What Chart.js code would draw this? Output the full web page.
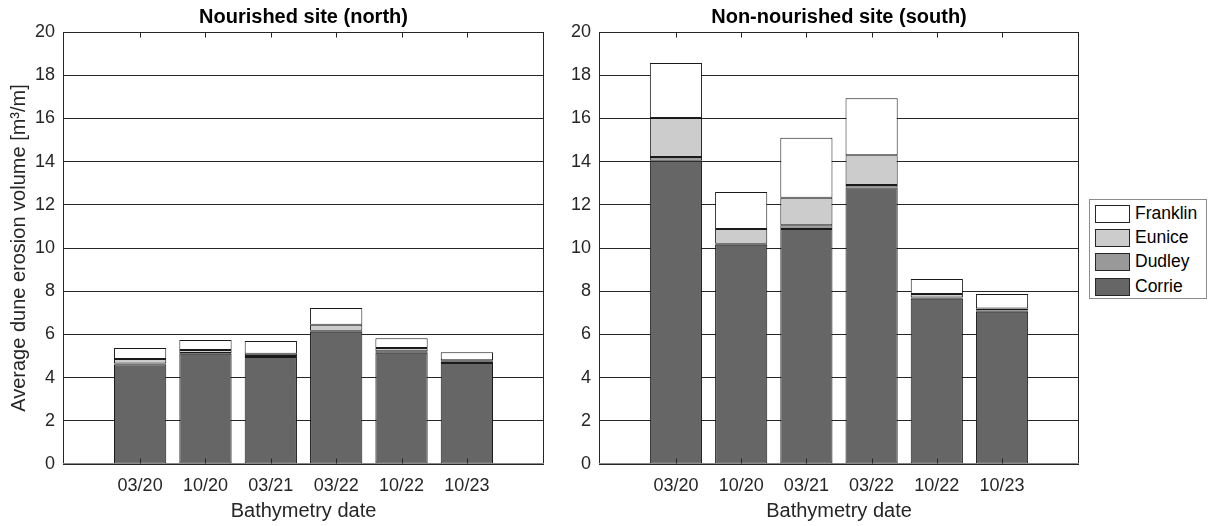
<!DOCTYPE html>
<html>
<head>
<meta charset="utf-8">
<script src="https://cdn.jsdelivr.net/npm/chart.js@4.4.1/dist/chart.umd.min.js"></script>
<style>
  html, body { margin: 0; padding: 0; background: #fff; }
  #wrap { position: relative; width: 1208px; height: 526px; overflow: hidden; }
  #north { position: absolute; left: 0; top: 0; }
  #south { position: absolute; left: 560px; top: 0; }
  #legend {
    position: absolute; left: 1089px; top: 199px; width: 118px; height: 100px;
    box-sizing: border-box; border: 1px solid #8c8c8c; background: #fff;
    font-family: 'Liberation Sans', Arial, sans-serif; font-size: 17.5px; color: #000;
  }
  .row { position: absolute; left: 5px; height: 19px; display: flex; align-items: center; }
  .sw { width: 35px; height: 18px; box-sizing: border-box; border: 1px solid #262626; margin-right: 5px; }
</style>
</head>
<body>
<div id="wrap">
  <canvas id="north" width="560" height="526"></canvas>
  <canvas id="south" width="648" height="526"></canvas>
  <div id="legend"></div>
</div>
<script>
// Survey dates (x categories)
const categories = ['03/20', '10/20', '03/21', '03/22', '10/22', '10/23'];

// Storm names, stacked bottom to top, and their fills
const storms = ['Corrie', 'Dudley', 'Eunice', 'Franklin'];
const stormColors = ['#666666', '#999999', '#cccccc', '#ffffff'];

// Nourished site (north), dune erosion per storm [m3/m]
const northCorrie   = [4.62, 5.10, 4.95, 6.12, 5.15, 4.68];
const northDudley   = [0.03, 0.04, 0.05, 0.05, 0.07, 0.08];
const northEunice   = [0.21, 0.14, 0.10, 0.28, 0.15, 0.04];
const northFranklin = [0.51, 0.46, 0.60, 0.77, 0.45, 0.37];

// Non-nourished site (south), dune erosion per storm [m3/m]
const southCorrie   = [14.04, 10.15, 10.88, 12.80, 7.65, 7.05];
const southDudley   = [0.17, 0.05, 0.17, 0.12, 0.06, 0.06];
const southEunice   = [1.81, 0.68, 1.28, 1.37, 0.16, 0.09];
const southFranklin = [2.54, 1.71, 2.77, 2.64, 0.69, 0.67];

// Y axis ticks
const yTicks = [0, 2, 4, 6, 8, 10, 12, 14, 16, 18, 20];

const FONT = "'Liberation Sans', Arial, Helvetica, sans-serif";
const AX = '#262626';

function makeDatasets(series) {
  return series.map((vals, k) => ({
    label: storms[k],
    data: vals.map((v, i) => ({ x: i + 1, y: v })),
    backgroundColor: stormColors[k],
    borderColor: '#1a1a1a',
    borderWidth: 1,
    borderSkipped: false,
    barPercentage: 0.8,
    categoryPercentage: 1.0
  }));
}

// Axes box with inward x tick marks
const boxPlugin = {
  id: 'axesBox',
  afterDatasetsDraw(chart) {
    const { ctx, chartArea: a, scales } = chart;
    ctx.save();
    ctx.lineWidth = 1;
    ctx.strokeStyle = AX;
    const L = Math.round(a.left) + 0.5, R = Math.round(a.right) - 0.5;
    const T = Math.round(a.top) + 0.5, B = Math.round(a.bottom) - 0.5;
    ctx.beginPath();
    ctx.moveTo(L, B); ctx.lineTo(L, T); ctx.lineTo(R, T); ctx.lineTo(R, B);
    ctx.stroke();
    ctx.strokeStyle = '#8a8a8a';
    ctx.beginPath();
    ctx.moveTo(L, B); ctx.lineTo(R, B);
    ctx.stroke();
    ctx.strokeStyle = AX;
    ctx.beginPath();
    categories.forEach((c, i) => {
      const x = Math.round(scales.x.getPixelForValue(i + 1)) + 0.5;
      ctx.moveTo(x, B); ctx.lineTo(x, B - 5);
      ctx.moveTo(x, T); ctx.lineTo(x, T + 5);
    });
    ctx.stroke();
    ctx.restore();
  }
};

function makeChart(id, title, series, yAxisWidth, rightPad, showYTitle) {
  return new Chart(document.getElementById(id), {
    type: 'bar',
    data: { datasets: makeDatasets(series) },
    plugins: [boxPlugin],
    options: {
      responsive: false,
      animation: false,
      layout: { padding: { left: 0, right: rightPad, top: 0, bottom: 0 } },
      plugins: {
        legend: { display: false },
        tooltip: { enabled: false },
        title: {
          display: true,
          text: title,
          fullSize: false,
          color: '#000',
          font: { family: FONT, size: 20, weight: 'bold', lineHeight: 1.2 },
          padding: { top: 5, bottom: 3 }
        }
      },
      scales: {
        x: {
          type: 'linear',
          stacked: true,
          offset: false,
          min: -0.18,
          max: 7.18,
          afterBuildTicks: (s) => { s.ticks = categories.map((c, i) => ({ value: i + 1 })); },
          afterFit: (s) => { s.height = 62; },
          grid: { display: false, drawTicks: false, offset: false },
          border: { display: false },
          ticks: {
            autoSkip: false,
            maxRotation: 0,
            padding: 11,
            color: AX,
            font: { family: FONT, size: 18 },
            callback: (v) => categories[v - 1] ?? ''
          },
          title: {
            display: true,
            text: 'Bathymetry date',
            color: AX,
            font: { family: FONT, size: 20, lineHeight: 1.2 },
            padding: { top: 0, bottom: 3 }
          }
        },
        y: {
          stacked: true,
          min: 0,
          max: 20,
          afterBuildTicks: (s) => { s.ticks = yTicks.map(v => ({ value: v })); },
          afterFit: (s) => { s.width = yAxisWidth; },
          grid: { color: AX, lineWidth: 1, drawTicks: false },
          border: { display: false },
          ticks: {
            padding: 8,
            color: AX,
            font: { family: FONT, size: 18 }
          },
          title: {
            display: showYTitle,
            text: 'Average dune erosion volume [m³/m]',
            color: AX,
            font: { family: FONT, size: 20, lineHeight: 1.2 },
            padding: { top: 7, bottom: 0 }
          }
        }
      }
    }
  });
}

makeChart('north', 'Nourished site (north)',
  [northCorrie, northDudley, northEunice, northFranklin], 63, 16, true);
makeChart('south', 'Non-nourished site (south)',
  [southCorrie, southDudley, southEunice, southFranklin], 39, 129, false);

// Legend, top entry is the last stacked storm
const legend = document.getElementById('legend');
const rowTops = [4, 28, 52, 77];
storms.slice().reverse().forEach((name, j) => {
  const k = storms.length - 1 - j;
  const row = document.createElement('div');
  row.className = 'row';
  row.style.top = rowTops[j] + 'px';
  const sw = document.createElement('div');
  sw.className = 'sw';
  sw.style.background = stormColors[k];
  const tx = document.createElement('span');
  tx.textContent = name;
  row.appendChild(sw);
  row.appendChild(tx);
  legend.appendChild(row);
});
</script>
</body>
</html>
